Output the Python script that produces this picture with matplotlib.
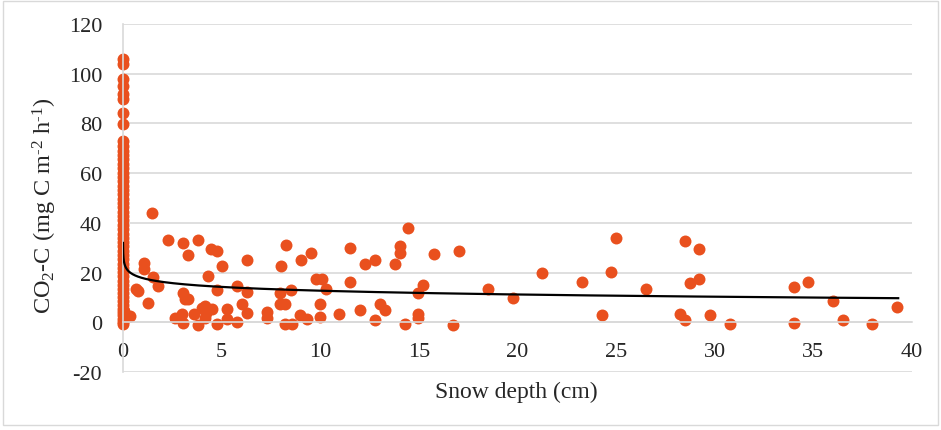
import matplotlib
matplotlib.use('Agg')
import matplotlib.pyplot as plt
import numpy as np
from matplotlib.patches import Rectangle

plt.rcParams['font.family'] = ['Liberation Serif', 'DejaVu Serif']
plt.rcParams['mathtext.fontset'] = 'custom'
plt.rcParams['mathtext.rm'] = 'Liberation Serif'
plt.rcParams['mathtext.it'] = 'Liberation Serif:italic'
plt.rcParams['axes.unicode_minus'] = False

# ---- data: points at snow depth 0 (dense column) ----
zero_y = [-0.8, 0.3, 1.5, 2.8, 4.0, 5.5, 7.0, 8.5, 10.2, 11.8, 13.5, 15.0, 16.8,
          18.5, 20.2, 22.0, 23.5, 25.3, 27.0, 28.8, 30.5, 32.2, 34.0, 35.7,
          37.5, 39.2, 41.0, 42.6, 44.5, 46.2, 48.0, 49.6, 51.5, 53.2, 55.0,
          56.7, 58.5, 60.2, 62.0, 63.6, 65.5, 67.2, 69.0, 70.8, 72.8,
          79.6, 84.0, 89.7, 91.7, 95.1, 97.7, 103.8, 105.8]

# ---- data: scattered points (snow depth > 0) ----
depth = [0.05, 0.12, 0.35, 0.65, 0.75, 1.05, 1.05, 1.49, 1.52, 1.75, 1.25,
         2.26, 3.03, 3.28, 3.79, 4.46, 4.75, 5.0, 6.27, 4.29,
         3.03, 3.14, 3.31, 4.75, 5.76, 6.27, 4.0, 4.16, 4.5, 5.26, 6.02, 6.27,
         2.64, 2.97, 3.03, 3.6, 3.82, 4.16, 4.21, 4.75, 5.26, 5.76,
         7.29, 7.29, 7.96, 7.96, 8.21, 8.52, 8.26, 8.01, 9.02, 9.51, 9.8, 10.07,
         8.21, 8.55, 8.97, 9.31, 10.0, 10.3, 10.0, 10.95,
         11.5, 11.5, 12.0, 12.27, 12.78, 12.78, 13.03, 13.28, 13.79, 14.04, 14.04,
         14.3, 14.47, 14.97, 15.23, 14.97, 14.97, 15.77, 16.75, 17.03, 18.52, 19.76,
         21.22, 23.29, 24.3, 24.74, 24.99, 26.5, 28.24, 28.49, 28.49, 28.75,
         29.22, 29.22, 29.76, 30.77, 34.03, 34.03, 34.71, 36.01, 36.52, 37.99, 39.26]
co2 = [4.5, 3.0, 2.5, 13.5, 12.5, 23.7, 21.6, 43.9, 18.3, 14.6, 7.9,
       33.0, 32.0, 27.0, 33.0, 29.4, 28.8, 22.8, 25.0, 18.5,
       11.7, 9.3, 9.3, 13.0, 14.6, 12.0, 5.9, 6.6, 5.2, 5.5, 7.2, 3.9,
       1.9, 3.2, -0.2, 3.5, -1.0, 1.9, 3.9, -0.8, 1.2, 0.2,
       4.3, 1.7, 11.9, 7.2, 7.2, 12.9, 31.0, 22.7, 25.0, 27.8, 17.6, 17.6,
       -0.8, -0.8, 2.8, 1.2, 7.5, 13.2, 2.0, 3.5,
       30.0, 16.4, 4.8, 23.3, 25.0, 0.9, 7.2, 4.9, 23.3, 30.7, 28.0,
       -0.5, 38.1, 11.9, 14.9, 3.2, 1.9, 27.6, -1.2, 28.7, 13.3, 9.9,
       20.0, 16.4, 2.9, 20.4, 34.1, 13.5, 3.5, 0.8, 32.7, 16.0,
       29.4, 17.6, 2.8, -0.5, 14.0, -0.1, 16.4, 8.6, 0.9, -0.8, 6.3]

# logarithmic trend line y = a + b*ln(x), fitted range
trend_coef = [17.77, -2.2]
trend_range = [0.0016, 39.3]

x_ticks = [0, 5, 10, 15, 20, 25, 30, 35, 40]
y_ticks = [-20, 0, 20, 40, 60, 80, 100, 120]

dot_color = '#E9501E'
grid_color = '#d9d9d9'
text_color = '#262626'

fig = plt.figure(figsize=(9.41, 4.31), dpi=100)
ax = fig.add_axes([123/941, 1-373/431, (912-123)/941, (373-25)/431])

all_x = [0.0]*len(zero_y) + depth
all_y = zero_y + co2
ax.scatter(all_x, all_y, s=74, c=dot_color, linewidths=0, zorder=2, clip_on=False)

tx = np.logspace(np.log10(trend_range[0]), np.log10(trend_range[1]), 500)
ty = trend_coef[0] + trend_coef[1]*np.log(tx)
ax.plot(tx, ty, color='black', lw=1.6, zorder=3)

ax.set_xlim(x_ticks[0], x_ticks[-1])
ax.set_ylim(y_ticks[0], y_ticks[-1])
ax.set_xticks(x_ticks)
ax.set_yticks(y_ticks)
ax.grid(axis='y', color=grid_color, lw=1.2, zorder=0)
ax.set_axisbelow(True)
for s in ['top', 'right']:
    ax.spines[s].set_visible(False)
ax.spines['bottom'].set_position(('data', 0))
ax.spines['bottom'].set_color(grid_color)
ax.spines['bottom'].set_linewidth(1.2)
ax.spines['left'].set_color(grid_color)
ax.spines['left'].set_linewidth(1.2)
ax.tick_params(length=0, labelsize=16, colors=text_color)
ax.tick_params(axis='x', pad=14)
ax.tick_params(axis='y', pad=15)

fig.text(45/941, 1-206/431, 'CO$_2$-C (mg C m$^{\u20102}$ h$^{\u20101}$)', rotation=90,
         ha='center', va='center', fontsize=17.5, color=text_color)
fig.text(516/941, 1-392/431, 'Snow depth (cm)', ha='center', va='center',
         fontsize=17, color=text_color)

fig.add_artist(Rectangle((0.003, 0.012), 0.994, 0.983, transform=fig.transFigure,
                         fill=False, edgecolor=grid_color, lw=1))

fig.savefig('out.png', dpi=100)
